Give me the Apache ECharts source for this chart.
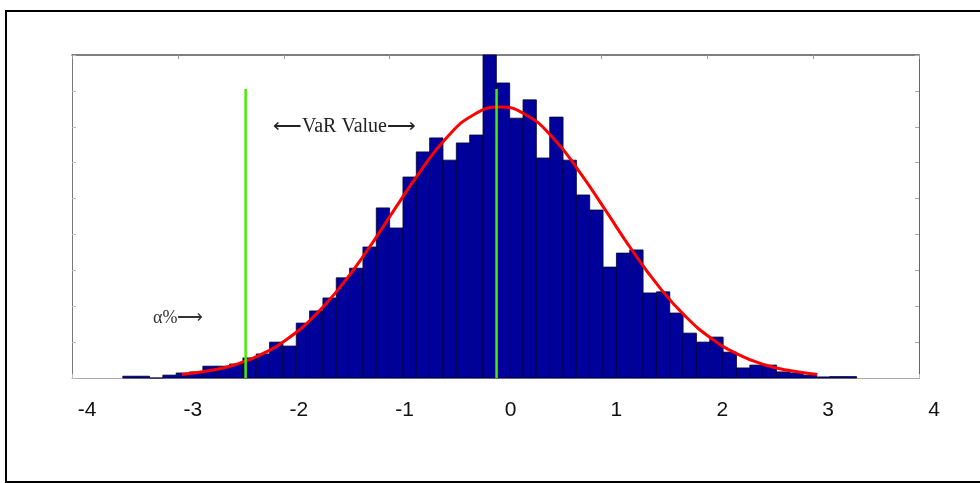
<!DOCTYPE html>
<html>
<head>
<meta charset="utf-8">
<script src="https://cdn.jsdelivr.net/npm/echarts@6/dist/echarts.min.js"></script>
<style>
html,body{margin:0;padding:0;background:#fff;}
#varHist{width:980px;height:483px;}
</style>
</head>
<body>
<div id="varHist"></div>
<script>
// histogram of returns with fitted normal curve and VaR markers

// bins: left edge of first bin and bin width (x units)
const binStart = -3.52;
const binWidth = 0.126;

// bar heights, left to right
const counts = [
0.5, 0.5, 0, 0.8, 1.4, 1.7, 3.3, 3.3, 3.9, 5.6,
6.7, 10.0, 8.9, 15.3, 18.7, 22.3, 27.9, 30.6, 36.5, 47.4,
41.8, 56.0, 63.0, 66.9, 60.7, 65.5, 67.7, 90.0, 82.2, 72.4,
77.5, 61.3, 72.7, 60.7, 51.0, 46.8, 30.9, 34.8, 35.7, 23.7,
24.0, 18.1, 12.5, 10.0, 11.4, 7.2, 2.8, 3.6, 3.6, 1.7,
1.4, 0.8, 0.3, 0.4, 0.4
];

// red fitted curve
const curveX = [
-2.96, -2.71, -2.46, -2.21, -1.96, -1.71, -1.46, -1.21, -0.96, -0.71,
-0.46, -0.21, 0.04, 0.29, 0.54, 0.79, 1.04, 1.29, 1.54, 1.79,
2.04, 2.29, 2.54, 2.79, 3.04
];
const curveY = [
1.0, 2.0, 3.7, 6.6, 11.0, 17.3, 25.6, 35.6, 46.7, 57.6,
67.0, 73.3, 75.5, 73.3, 67.0, 57.6, 46.7, 35.6, 25.6, 17.3,
11.0, 6.6, 3.7, 2.0, 1.0
];

// green marker lines
const varLines = [-2.36, 0.01];
const varTop = 80.5;

// x tick labels
const xTicks = [-4, -3, -2, -1, 0, 1, 2, 3, 4];

const chart = echarts.init(document.getElementById("varHist"));

const option = {

animation:false,

backgroundColor:"#fff",

grid:[
{
left:72,
top:55,
width:847,
height:323
},
{
left:87,
top:55,
width:847,
height:323
}
],

xAxis:[
{
type:"value",
gridIndex:0,
min:-4,
max:4,
interval:1,
position:"bottom",
axisLine:{ onZero:false, lineStyle:{ color:"#aaa" } },
axisTick:{ inside:true, length:4, lineStyle:{ color:"#bbb" } },
axisLabel:{ show:false },
splitLine:{ show:false }
},
{
type:"value",
gridIndex:0,
min:-4,
max:4,
interval:1,
position:"top",
axisLine:{ onZero:false, lineStyle:{ color:"#555", width:1.5 } },
axisTick:{ inside:true, length:4, lineStyle:{ color:"#999" } },
axisLabel:{ show:false },
splitLine:{ show:false }
},
{
type:"value",
gridIndex:1,
min:-4,
max:4,
interval:1,
axisLine:{ show:false },
axisTick:{ show:false },
splitLine:{ show:false },
axisLabel:{
margin:22,
fontSize:21,
color:"#111",
fontFamily:"Liberation Sans, Arial, sans-serif",
customValues:xTicks
}
}
],

yAxis:[
{
type:"value",
gridIndex:0,
min:0,
max:90,
interval:10,
position:"left",
axisLine:{ show:true, onZero:false, lineStyle:{ color:"#777" } },
axisTick:{ show:true, inside:true, length:4, lineStyle:{ color:"#bbb" } },
axisLabel:{ show:false },
splitLine:{ show:false }
},
{
type:"value",
gridIndex:0,
min:0,
max:90,
interval:10,
position:"right",
axisLine:{ show:true, onZero:false, lineStyle:{ color:"#666" } },
axisTick:{ show:true, inside:true, length:4, lineStyle:{ color:"#aaa" } },
axisLabel:{ show:false },
splitLine:{ show:false }
},
{
type:"value",
gridIndex:1,
min:0,
max:90,
show:false
}
],

series:[

{
type:"custom",
xAxisIndex:0,
yAxisIndex:0,
data:counts.map((c,i)=>[i,c]),
renderItem:function(params, api){
const x0 = binStart + api.value(0)*binWidth;
const p0 = api.coord([x0, api.value(1)]);
const p1 = api.coord([x0 + binWidth, 0]);
return {
type:"rect",
shape:{
x:p0[0],
y:p0[1],
width:p1[0]-p0[0],
height:p1[1]-p0[1]
},
style:{
fill:"#00009a",
stroke:"#000033",
lineWidth:0.8
}
};
},
z:1
},

{
type:"line",
xAxisIndex:0,
yAxisIndex:0,
data:curveX.map((x,i)=>[x,curveY[i]]),
smooth:true,
symbol:"none",
lineStyle:{
color:"#ff0000",
width:3
},
z:3
},

...varLines.map(v=>({
type:"line",
xAxisIndex:0,
yAxisIndex:0,
data:[[v,0],[v,varTop]],
symbol:"none",
lineStyle:{
color:"#44ee00",
width:2.5
},
z:4
}))

],

graphic:[
{
type:"rect",
shape:{ x:6, y:11, width:1000, height:471 },
style:{ fill:"none", stroke:"#000", lineWidth:2 },
silent:true
},
{
type:"text",
left:273,
top:117,
style:{
text:"\u27f5VaR Value\u27f6",
font:"20px 'Liberation Serif', serif",
fill:"#222"
}
},
{
type:"text",
left:153,
top:309,
style:{
text:"\u03b1%\u27f6",
font:"18px 'Liberation Serif', serif",
fill:"#333"
}
}
]

};

chart.setOption(option);
</script>
</body>
</html>
